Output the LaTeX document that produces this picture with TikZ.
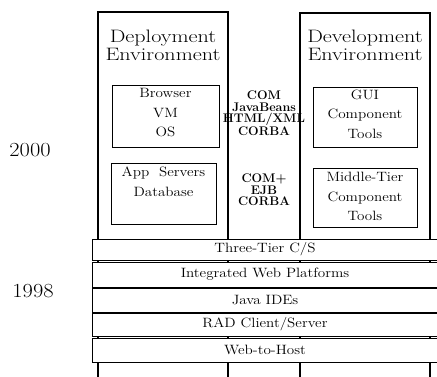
\documentclass[tikz,border=0pt]{standalone}
\usepackage{graphicx}
\newcommand{\sx}[1]{\scalebox{1.12}[1]{#1}}
\newcommand{\hx}[1]{\scalebox{1.23}[1]{#1}}
\begin{document}
\begin{tikzpicture}[x=1pt,y=1pt,
  every node/.style={inner sep=0pt, outer sep=0pt},
  col/.style={draw, line width=1.2pt},
  ibox/.style={draw, line width=0.9pt},
  bar/.style={draw, fill=white, line width=1pt, minimum width=346pt,
    font=\fontsize{13.5}{15}\selectfont},
  hdr/.style={align=center, font=\fontsize{18}{18}\selectfont},
  btxt/.style={align=center, font=\fontsize{13.5}{19.5}\selectfont},
  mtxt/.style={align=center, font=\fontsize{12.5}{11.5}\selectfont\bfseries},
  year/.style={font=\fontsize{20}{24}\selectfont}]
\useasboundingbox (0,0) rectangle (437,376);
\clip (0,0) rectangle (437,376);
% columns
\node[col, minimum width=130pt, minimum height=368pt] (leftcol) at (163,180) {};
\node[col, minimum width=130pt, minimum height=367pt] (rightcol) at (365,179.5) {};
% headers
\node[hdr] (lhdr) at (163,331) {\hx{Deployment}\\\hx{Environment}};
\node[hdr] (rhdr) at (365,331) {\hx{Development}\\\hx{Environment}};
% inner boxes
\node[ibox, minimum width=107pt, minimum height=62pt] (browserbox) at (165.5,260) {};
\node[ibox, minimum width=105pt, minimum height=61pt] (appbox) at (163.5,182.5) {};
\node[ibox, minimum width=104pt, minimum height=60pt] (guibox) at (365,259) {};
\node[ibox, minimum width=104pt, minimum height=59pt] (midbox) at (365,178.5) {};
\node[btxt] (browsertxt) at (165.5,263) {\sx{Browser}\\\sx{VM}\\\sx{OS}};
\node[btxt] (apptxt) at (163.5,194.5) {\sx{App~~Servers}\\\sx{Database}};
\node[btxt] (guitxt) at (365,262) {\sx{GUI}\\\sx{Component}\\\sx{Tools}};
\node[btxt] (midtxt) at (365,179.5) {\sx{Middle-Tier}\\\sx{Component}\\\sx{Tools}};
% middle column texts
\node[mtxt] (mid1) at (264,262.5) {COM\\JavaBeans\\HTML/XML\\CORBA};
\node[mtxt] (mid2) at (264,186) {COM+\\EJB\\CORBA};
% bars
\node[bar, minimum height=21pt] (b1) at (265,126.5) {\sx{Three-Tier C/S}};
\node[bar, minimum height=25pt] (b2) at (265,101.5) {\sx{Integrated Web Platforms}};
\node[bar, minimum height=24pt] (b3) at (265,76) {\sx{Java IDEs}};
\node[bar, minimum height=23pt] (b4) at (265,51.5) {\sx{RAD Client/Server}};
\node[bar, minimum height=24pt] (b5) at (265,26) {\sx{Web-to-Host}};
% years
\node[year] (y2000) at (30,226) {\sx{2000}};
\node[year] (y1998) at (33,84.5) {\sx{1998}};
\end{tikzpicture}
\end{document}
